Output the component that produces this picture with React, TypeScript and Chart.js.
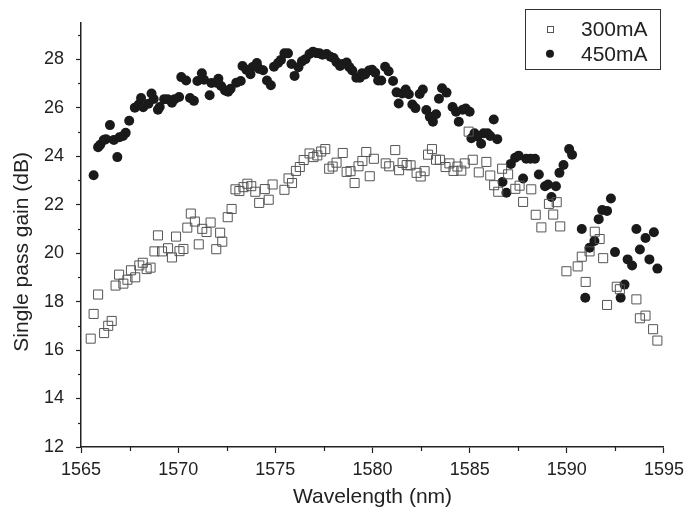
import React, { useEffect, useRef } from 'react';
import { Chart, registerables } from 'chart.js';

Chart.register(...registerables);

const seriesLabels = ['300mA', '450mA'];
const xTitle = 'Wavelength (nm)';
const yTitle = 'Single pass gain (dB)';

const wavelength300 = [
  1565.5, 1565.65, 1565.88, 1566.19, 1566.4, 1566.58, 1566.78, 1566.96, 1567.18, 1567.39,
  1567.57, 1567.79, 1568.0, 1568.18, 1568.38, 1568.58, 1568.78, 1568.96, 1569.17, 1569.48,
  1569.68, 1569.89, 1570.07, 1570.27, 1570.47, 1570.65, 1570.86, 1571.06, 1571.24, 1571.46,
  1571.67, 1571.96, 1572.16, 1572.27, 1572.55, 1572.75, 1572.95, 1573.15, 1573.36, 1573.56,
  1573.76, 1573.97, 1574.17, 1574.46, 1574.66, 1574.86, 1575.47, 1575.68, 1575.86, 1576.06,
  1576.26, 1576.46, 1576.76, 1576.96, 1577.16, 1577.36, 1577.57, 1577.77, 1577.95, 1578.15,
  1578.47, 1578.67, 1578.87, 1579.08, 1579.28, 1579.48, 1579.68, 1579.86, 1580.07, 1580.68,
  1580.86, 1581.17, 1581.37, 1581.55, 1581.76, 1581.96, 1582.27, 1582.48, 1582.68, 1582.86,
  1583.06, 1583.27, 1583.47, 1583.76, 1583.96, 1584.17, 1584.37, 1584.57, 1584.75, 1584.95,
  1585.16, 1585.47, 1585.86, 1586.06, 1586.26, 1586.47, 1586.67, 1586.98, 1587.35, 1587.57,
  1587.75, 1588.17, 1588.4, 1588.69, 1589.08, 1589.3, 1589.48, 1589.66, 1589.98, 1590.56,
  1590.77, 1590.97, 1591.17, 1591.44, 1591.69, 1591.87, 1592.07, 1592.57, 1592.73, 1593.58,
  1593.76, 1594.05, 1594.44, 1594.66,
];

const gain300 = [
  16.47, 17.49, 18.29, 16.7, 17.0, 17.2, 18.66, 19.11, 18.74, 18.9,
  19.29, 19.0, 19.49, 19.6, 19.34, 19.4, 20.07, 20.73, 20.07, 20.2,
  19.82, 20.68, 20.08, 20.17, 21.05, 21.63, 21.3, 20.36, 21.0, 20.87,
  21.26, 20.16, 20.84, 20.47, 21.48, 21.82, 22.63, 22.56, 22.72, 22.86,
  22.76, 22.53, 22.07, 22.64, 22.2, 22.83, 22.61, 23.08, 22.89, 23.39,
  23.55, 23.84, 24.11, 23.96, 24.03, 24.19, 24.29, 23.48, 23.57, 23.73,
  24.13, 23.35, 23.38, 22.89, 23.58, 23.8, 24.17, 23.17, 23.89, 23.7,
  23.58, 24.25, 23.42, 23.72, 23.63, 23.62, 23.31, 23.16, 23.38, 24.06,
  24.29, 23.85, 23.85, 23.55, 23.7, 23.39, 23.57, 23.4, 23.7, 25.01,
  23.85, 23.33, 23.76, 23.2, 22.8, 22.53, 23.48, 23.25, 22.65, 22.78,
  22.11, 22.63, 21.58, 21.06, 22.03, 21.59, 22.1, 21.1, 19.25, 19.45,
  19.85, 18.81, 20.07, 20.88, 20.58, 19.79, 17.86, 18.61, 18.51, 18.09,
  17.31, 17.42, 16.86, 16.39,
];

const wavelength450 = [
  1565.65, 1565.88, 1565.99, 1566.17, 1566.28, 1566.49, 1566.69, 1566.87, 1566.98, 1567.16,
  1567.3, 1567.48, 1567.77, 1567.97, 1568.09, 1568.2, 1568.47, 1568.63, 1568.74, 1568.96,
  1569.05, 1569.28, 1569.46, 1569.68, 1569.82, 1570.05, 1570.16, 1570.41, 1570.61, 1570.81,
  1570.99, 1571.22, 1571.33, 1571.62, 1571.71, 1571.96, 1572.07, 1572.21, 1572.41, 1572.57,
  1572.7, 1572.99, 1573.22, 1573.31, 1573.51, 1573.72, 1573.83, 1574.05, 1574.17, 1574.37,
  1574.57, 1574.77, 1574.93, 1575.14, 1575.29, 1575.47, 1575.65, 1575.83, 1575.99, 1576.19,
  1576.37, 1576.55, 1576.76, 1576.94, 1577.12, 1577.27, 1577.43, 1577.64, 1577.84, 1578.0,
  1578.15, 1578.33, 1578.47, 1578.67, 1578.81, 1578.96, 1579.17, 1579.35, 1579.46, 1579.62,
  1579.82, 1579.98, 1580.14, 1580.29, 1580.45, 1580.65, 1580.83, 1581.06, 1581.24, 1581.35,
  1581.53, 1581.71, 1581.87, 1582.05, 1582.21, 1582.43, 1582.59, 1582.77, 1582.95, 1583.11,
  1583.27, 1583.42, 1583.58, 1583.81, 1584.12, 1584.3, 1584.44, 1584.64, 1584.8, 1585.0,
  1585.09, 1585.25, 1585.41, 1585.59, 1585.72, 1585.92, 1586.06, 1586.24, 1586.42, 1586.69,
  1586.89, 1587.12, 1587.34, 1587.52, 1587.75, 1587.91, 1588.13, 1588.36, 1588.56, 1588.88,
  1589.03, 1589.21, 1589.44, 1589.62, 1589.83, 1590.12, 1590.27, 1590.77, 1590.95, 1591.17,
  1591.42, 1591.64, 1591.82, 1592.07, 1592.27, 1592.48, 1592.77, 1592.97, 1593.13,
  1593.36, 1593.58, 1593.76, 1594.05, 1594.25, 1594.48, 1594.66,
];

const gain450 = [
  23.21, 24.37, 24.47, 24.66, 24.7, 25.28, 24.67, 23.96, 24.78, 24.83,
  24.96, 25.46, 26.0, 26.13, 26.4, 26.02, 26.16, 26.58, 26.36, 25.91,
  26.03, 26.35, 26.35, 26.2, 26.35, 26.44, 27.26, 27.12, 26.4, 26.28,
  27.1, 27.42, 27.15, 26.51, 27.02, 27.03, 27.19, 26.89, 26.71, 26.66,
  26.78, 27.03, 27.1, 27.72, 27.56, 27.38, 27.68, 27.84, 27.6, 27.54,
  27.12, 26.92, 27.69, 27.84, 27.97, 28.24, 28.24, 27.8, 27.31, 27.67,
  27.91, 28.0, 28.21, 28.31, 28.25, 28.24, 28.18, 28.21, 28.1, 28.05,
  27.87, 27.72, 27.8, 27.86, 27.67, 27.53, 27.23, 27.23, 27.42, 27.37,
  27.53, 27.56, 27.44, 27.12, 27.12, 27.69, 27.5, 27.1, 26.63, 26.17,
  26.58, 26.75, 26.55, 26.13, 25.98, 26.56, 26.75, 25.9, 25.62, 25.42,
  25.73, 26.37, 26.8, 26.62, 26.03, 25.83, 25.42, 25.91, 25.96, 25.83,
  24.74, 24.94, 24.81, 24.51, 24.94, 24.94, 24.83, 25.51, 24.7, 22.93,
  22.49, 23.68, 23.93, 24.02, 23.08, 23.89, 23.89, 23.89, 23.24, 22.76,
  22.83, 22.31, 22.76, 23.31, 23.63, 24.29, 24.06, 20.99, 18.16, 20.22,
  20.5, 21.4, 21.78, 21.74, 22.25, 20.04, 18.16, 18.7, 19.74,
  19.49, 20.99, 20.15, 20.62, 19.74, 20.86, 19.36,
];

const xMajorTicks = [1565, 1570, 1575, 1580, 1585, 1590, 1595];
const xMinorTicks = [1567.5, 1572.5, 1577.5, 1582.5, 1587.5, 1592.5];
const yMajorTicks = [12, 14, 16, 18, 20, 22, 24, 26, 28];
const yMinorTicks = [13, 15, 17, 19, 21, 23, 25, 27, 29];

const FONT = '"Liberation Sans", Arial, sans-serif';
const INK = '#222222';

const minorTickPlugin = {
  id: 'minorTicks',
  afterDraw(chart: any) {
    const { ctx } = chart;
    const xs = chart.scales.x;
    const ys = chart.scales.y;
    ctx.save();
    ctx.strokeStyle = INK;
    ctx.lineWidth = 1.2;
    xMinorTicks.forEach((v) => {
      const px = Math.round(xs.getPixelForValue(v)) + 0.5;
      ctx.beginPath();
      ctx.moveTo(px, xs.top);
      ctx.lineTo(px, xs.top + 4);
      ctx.stroke();
    });
    yMinorTicks.forEach((v) => {
      const py = Math.round(ys.getPixelForValue(v)) + 0.5;
      ctx.beginPath();
      ctx.moveTo(ys.right, py);
      ctx.lineTo(ys.right - 3, py);
      ctx.stroke();
    });
    ctx.restore();
  },
};

const yTitlePlugin = {
  id: 'yTitle',
  afterDraw(chart: any) {
    const { ctx, chartArea } = chart;
    const cy = chartArea.top + (chartArea.bottom - chartArea.top) * 0.54;
    ctx.save();
    ctx.translate(22, cy);
    ctx.rotate(-Math.PI / 2);
    ctx.fillStyle = INK;
    ctx.font = `21px ${FONT}`;
    ctx.textAlign = 'center';
    ctx.textBaseline = 'middle';
    ctx.fillText(yTitle, 0, 0);
    ctx.restore();
  },
};

const boxLegendPlugin = {
  id: 'boxLegend',
  afterDraw(chart: any) {
    const { ctx, chartArea } = chart;
    const w = 135;
    const h = 60;
    const left = chartArea.right - 4 - w;
    const top = chartArea.top - 14;
    ctx.save();
    ctx.strokeStyle = '#333';
    ctx.lineWidth = 1;
    ctx.strokeRect(Math.round(left) + 0.5, Math.round(top) + 0.5, w, h);
    chart.data.datasets.forEach((ds: any, i: number) => {
      const cy = top + 20 + i * 25;
      const sx = left + 25;
      if (ds.pointStyle === 'rect') {
        ctx.strokeStyle = ds.pointBorderColor;
        ctx.lineWidth = 1;
        ctx.strokeRect(Math.round(sx - 3) + 0.5, Math.round(cy - 3) + 0.5, 6, 6);
      } else {
        ctx.fillStyle = ds.pointBackgroundColor;
        ctx.beginPath();
        ctx.arc(sx, cy, 4, 0, Math.PI * 2);
        ctx.fill();
      }
      ctx.fillStyle = INK;
      ctx.font = `21px ${FONT}`;
      ctx.textBaseline = 'middle';
      ctx.textAlign = 'left';
      ctx.fillText(ds.label, left + 56, cy + 1);
    });
    ctx.restore();
  },
};

export default function App() {
  const canvasRef = useRef<HTMLCanvasElement | null>(null);

  useEffect(() => {
    document.body.style.margin = '0';
    const canvas = canvasRef.current;
    if (!canvas) return;
    const pts300 = wavelength300.map((x, i) => ({ x, y: gain300[i] }));
    const pts450 = wavelength450.map((x, i) => ({ x, y: gain450[i] }));

    const chart = new Chart(canvas, {
      type: 'scatter',
      data: {
        datasets: [
          {
            label: seriesLabels[0],
            data: pts300,
            pointStyle: 'rect',
            pointRadius: 6.4,
            pointHoverRadius: 6.4,
            pointBorderWidth: 1,
            pointBorderColor: '#555555',
            pointBackgroundColor: 'rgba(255,255,255,0)',
            borderColor: '#555555',
            backgroundColor: 'rgba(255,255,255,0)',
          },
          {
            label: seriesLabels[1],
            data: pts450,
            pointStyle: 'circle',
            pointRadius: 5,
            pointHoverRadius: 5,
            pointBorderWidth: 0,
            pointBorderColor: '#1a1a1a',
            pointBackgroundColor: '#1a1a1a',
            borderColor: '#1a1a1a',
            backgroundColor: '#1a1a1a',
          },
        ],
      },
      options: {
        responsive: false,
        animation: false,
        events: [],
        layout: { padding: { top: 21, right: 23, left: 0, bottom: 0 } },
        plugins: {
          legend: { display: false },
          tooltip: { enabled: false },
        },
        scales: {
          x: {
            type: 'linear',
            min: 1565,
            max: 1595,
            afterBuildTicks: (s: any) => {
              s.ticks = xMajorTicks.map((v) => ({ value: v }));
            },
            afterFit: (s: any) => {
              s.height = 72;
            },
            ticks: {
              color: INK,
              font: { family: FONT, size: 18 },
              padding: 6,
              maxRotation: 0,
              callback: (v: any) => String(v),
            },
            grid: {
              drawOnChartArea: false,
              tickLength: 6,
              tickColor: INK,
              tickWidth: 1.2,
            },
            border: { color: INK, width: 1.5 },
            title: {
              display: true,
              text: xTitle,
              color: INK,
              font: { family: FONT, size: 21 },
              padding: { top: 0, bottom: 9 },
            },
          },
          y: {
            type: 'linear',
            min: 12,
            max: 29.5,
            afterBuildTicks: (s: any) => {
              s.ticks = yMajorTicks.map((v) => ({ value: v }));
            },
            afterFit: (s: any) => {
              s.width = 81;
            },
            ticks: {
              color: INK,
              font: { family: FONT, size: 18 },
              padding: 12,
              callback: (v: any) => String(v),
            },
            grid: {
              drawOnChartArea: false,
              tickLength: 5,
              tickColor: INK,
              tickWidth: 1.2,
            },
            border: { color: INK, width: 1.5 },
            title: { display: false },
          },
        },
      },
      plugins: [minorTickPlugin, yTitlePlugin, boxLegendPlugin],
    });

    return () => {
      chart.destroy();
    };
  }, []);

  return (
    <div style={{ width: 690, height: 519, background: '#ffffff' }}>
      <canvas ref={canvasRef} width={690} height={519} />
    </div>
  );
}
